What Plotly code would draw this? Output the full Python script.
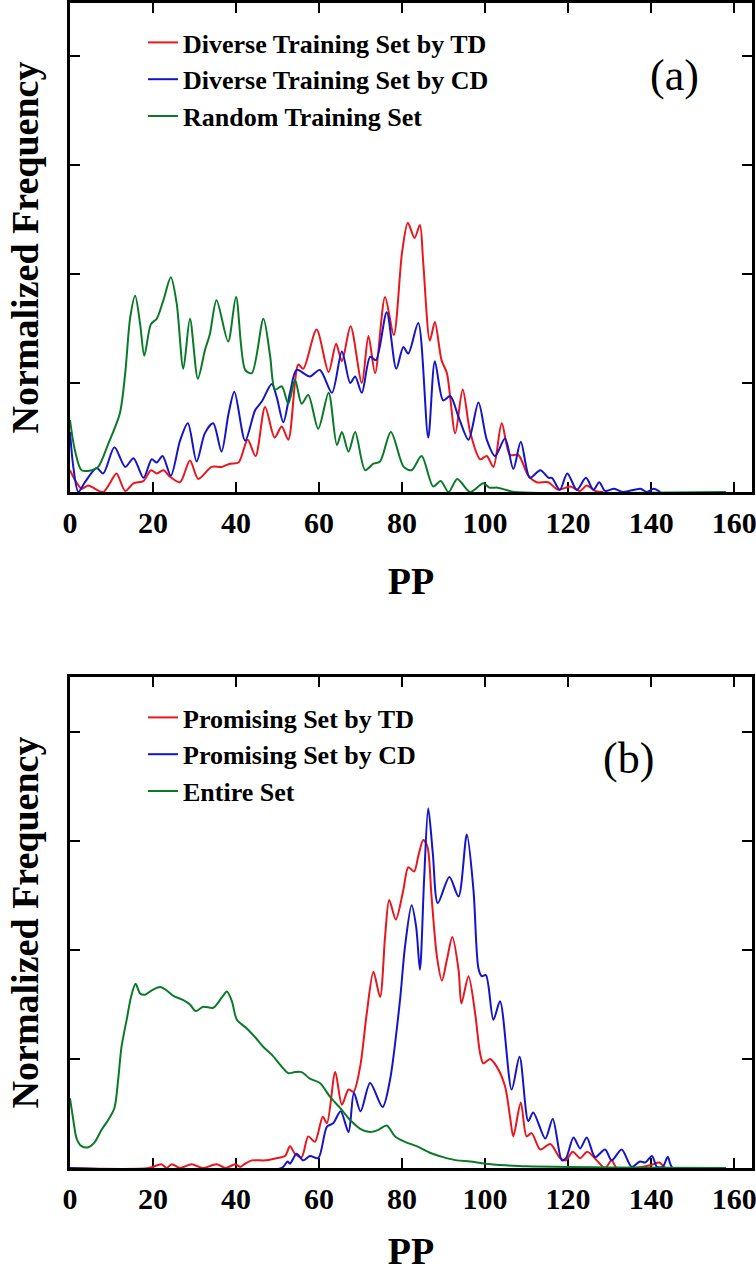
import plotly.graph_objects as go

# ---------------- data ----------------
# Panel (a)
pp_a_td = [0, 1.2, 2.8, 4.4, 6, 8, 9.6, 11.2, 13.3, 15.3, 17.7, 19.5, 20.9, 22.5, 24.1, 26.5, 28.9, 30.9,
           34.1, 36.5, 38.6, 40.6, 42.8, 44.7, 47, 49.3, 51, 52.6, 55, 56.2, 59.4, 62.3, 64.1, 65.5, 67.6,
           70.3, 71.9, 73.5, 75.9, 78, 80, 81.4, 83, 84.3, 85.1, 86.7, 87.9, 89.5, 90.8, 92.8, 94.6, 96.4,
           98.8, 100.4, 102, 104, 106, 108, 110.4, 112.4, 115.2, 117.6, 120.5, 122.9, 124.5, 126.5, 128.5]
freq_a_td = [0.2, 0.11, 0.03, 0.06, 0.03, 0, 0.08, 0.17, 0.01, 0.08, 0.1, 0.2, 0.17, 0.2, 0.14, 0.09, 0.29, 0.12,
             0.23, 0.23, 0.26, 0.27, 0.48, 0.33, 0.78, 0.5, 0.6, 0.48, 1.17, 1.13, 1.49, 1.1, 1.36, 1.2, 1.52,
             1.0, 1.43, 1.09, 1.79, 1.44, 2.2, 2.47, 2.33, 2.45, 2.1, 1.39, 1.56, 1.21, 1.09, 0.54, 0.94, 0.55,
             0.3, 0.33, 0.23, 0.63, 0.34, 0.34, 0.15, 0.09, 0.09, 0.02, 0.05, 0.01, 0.06, 0.01, 0]

pp_a_cd = [0, 0.8, 2, 3.6, 6.4, 8, 10.7, 13.3, 15.3, 17.7, 19.7, 20.9, 22.3, 24.3, 26.5, 28.4, 30.5, 32.5,
           34.5, 36.5, 38.2, 39.6, 42.2, 44.6, 46.2, 48.6, 49.8, 51.4, 53, 54.6, 57.8, 60.2, 63.1, 65.5,
           67.5, 68.7, 70.3, 72.3, 73.7, 76.3, 78.6, 80.3, 81.5, 83.9, 86.3, 87.9, 89.9, 91.6, 93.6, 96,
           98.4, 100.4, 102.4, 104.8, 106.8, 108.6, 110.8, 113.3, 115.3, 116.1, 118, 119.8, 122.1, 124.3,
           126.1, 127.5, 128.9, 131.1, 133.3, 137.4, 139, 140.6, 142.2]
freq_a_cd = [0.55, 0.23, 0, 0.09, 0.22, 0.17, 0.41, 0.23, 0.31, 0.13, 0.3, 0.27, 0.33, 0.15, 0.47, 0.63, 0.28, 0.54,
             0.63, 0.37, 0.72, 0.92, 0.47, 0.75, 0.83, 0.99, 0.87, 0.64, 0.91, 1.12, 1.06, 1.12, 0.91, 1.29,
             1.0, 1.06, 0.91, 1.24, 1.21, 1.65, 1.13, 1.33, 1.27, 1.55, 0.5, 1.2, 0.84, 0.88, 0.69, 0.48,
             0.82, 0.48, 0.33, 0.49, 0.21, 0.46, 0.13, 0.2, 0.13, 0.13, 0.02, 0.17, 0.02, 0.13,
             0.02, 0.09, 0.01, 0.03, 0, 0.03, 0, 0.03, 0]

pp_a_rand = [0, 1.2, 2.8, 5.2, 6.8, 9.2, 12, 13.3, 14.5, 15.7, 16.9, 17.9, 19.5, 20.9, 22.5, 24.3, 25.7, 27.3,
             28.9, 30.8, 32.5, 33.7, 35.3, 38.1, 40, 42.2, 43.8, 46.6, 48.2, 49.4, 51, 52.6, 54.2, 55.8, 57.4,
             59.8, 62.3, 64.3, 65.5, 67.1, 68.7, 71.1, 73.1, 74.7, 77.3, 80.4, 82.3, 84.7, 87.5, 89.3, 91.2,
             93.3, 96.4, 99.6, 101, 103, 105, 107, 158]
freq_a_rand = [0.66, 0.38, 0.2, 0.2, 0.23, 0.44, 0.72, 1.09, 1.6, 1.8, 1.54, 1.25, 1.54, 1.59, 1.76, 1.97, 1.73, 1.13,
               1.59, 1.04, 1.3, 1.45, 1.76, 1.38, 1.79, 1.12, 1.09, 1.59, 1.25, 0.94, 0.97, 0.81, 1.03, 0.81, 0.89,
               0.58, 0.91, 0.43, 0.55, 0.37, 0.55, 0.2, 0.26, 0.28, 0.55, 0.23, 0.2, 0.33, 0.05, 0.1, 0,
               0.12, 0, 0.08, 0.04, 0.04, 0.02, 0, 0]

# Panel (b)
pp_b_td = [0, 19, 22, 23.3, 24.5, 26.5, 29.3, 32, 35.3, 37.5, 39.8, 41, 42.2, 43.8, 47, 49.8, 51.8, 53, 54.2,
           55.8, 57.4, 59, 60.9, 61.9, 63.9, 65.5, 67.1, 68.3, 69.9, 71.5, 73.1, 74.7, 75.9, 76.9, 78.5, 80.3,
           81.5, 82.9, 83.9, 85.1, 86.1, 87.1, 88.4, 89.6, 90.8, 92.1, 93.6, 94.3, 96, 97.6, 98.8, 99.6, 101.2,
           102.8, 104.8, 106, 106.8, 108.6, 110, 111.2, 113.3, 115.7, 118.1, 119.5, 121.1, 122.9, 124.6, 126.9,
           128.9, 130.5, 131.7, 136, 140.2, 142, 143.5, 145]
freq_b_td = [0, 0, 0.035, 0, 0.035, 0, 0.035, 0, 0.035, 0, 0.035, 0.01, 0.04, 0.07, 0.07, 0.09, 0.11, 0.2, 0.13,
             0.1, 0.29, 0.24, 0.47, 0.41, 0.88, 0.58, 0.72, 0.7, 0.93, 1.42, 1.8, 1.57, 2.12, 2.46, 2.28, 2.55,
             2.76, 2.72, 2.86, 3.01, 2.95, 2.49, 1.94, 1.72, 1.91, 2.12, 1.82, 1.51, 1.76, 1.42, 1.05, 0.96, 1.0,
             0.93, 0.75, 0.47, 0.29, 0.6, 0.29, 0.32, 0.17, 0.22, 0.09, 0.07, 0.15, 0.09, 0.15, 0.07,
             0, 0.07, 0, 0, 0.03, 0.05, 0, 0]

pp_b_cd = [0, 51, 52.4, 53, 54.6, 56.2, 57.8, 59.8, 61.9, 63.4, 65.2, 67.1, 68.4, 70, 72.3, 75.3, 77.1, 79.5,
           80.7, 82.3, 83.4, 84.3, 85.3, 86.3, 87.4, 88.6, 91.4, 93.6, 95.6, 97.2, 98.4, 99.2, 100.2, 102,
           103.6, 106.4, 108.3, 110.4, 111.6, 114.5, 116.3, 118.5, 119.5, 121.3, 122.9, 124.5, 126.5, 128.9,
           130.5, 132.9, 135.3, 137.3, 138.6, 140.2, 141.4, 142.8, 144, 145.2, 158]
freq_b_cd = [0, 0, 0.06, 0.04, 0.13, 0.07, 0.11, 0.09, 0.38, 0.41, 0.52, 0.33, 0.69, 0.52, 0.78, 0.56, 0.81, 1.54,
             2.03, 2.41, 2.21, 1.82, 2.64, 3.3, 2.89, 2.43, 2.67, 2.49, 3.06, 2.55, 1.83, 1.76, 1.77, 1.36,
             1.53, 0.72, 1.02, 0.43, 0.51, 0.27, 0.45, 0.07, 0.09, 0.28, 0.18, 0.28, 0.1, 0.17,
             0.07, 0.17, 0.01, 0.06, 0.05, 0.11, 0.01, 0.01, 0.1, 0, 0]

pp_b_all = [0, 0.8, 1.6, 2.8, 4.4, 6, 7.6, 9.2, 10.7, 11.6, 12.4, 13.7, 14.7, 15.8, 16.9, 18.1, 19.7, 21.7, 22.9,
            24.9, 27.3, 28.9, 30.3, 32.1, 34.5, 36.5, 37.8, 39, 40.2, 42.6, 44.6, 46.6, 48.6, 51, 52.6, 54.2,
            55.8, 57.8, 60.2, 62.7, 65.1, 67.5, 69.9, 72.3, 74.3, 76.3, 78.3, 80.7, 83.5, 86.7, 89.9, 93.2,
            96.4, 100, 105, 110, 120, 130, 158]
freq_b_all = [0.64, 0.44, 0.27, 0.2, 0.19, 0.24, 0.35, 0.44, 0.55, 0.81, 1.11, 1.37, 1.57, 1.69, 1.6, 1.59, 1.63, 1.66, 1.64,
              1.58, 1.54, 1.5, 1.44, 1.48, 1.47, 1.56, 1.62, 1.53, 1.36, 1.28, 1.2, 1.11, 1.04, 0.93, 0.87, 0.88,
              0.88, 0.82, 0.78, 0.65, 0.55, 0.44, 0.36, 0.33, 0.35, 0.39, 0.29, 0.24, 0.2, 0.14, 0.1, 0.07,
              0.06, 0.04, 0.025, 0.015, 0.01, 0.005, 0]

x_ticks = [0, 20, 40, 60, 80, 100, 120, 140, 160]
y_ticks = [0, 1, 2, 3, 4]

names_a = ["Diverse Training Set by TD", "Diverse Training Set by CD", "Random Training Set"]
names_b = ["Promising Set by TD", "Promising Set by CD", "Entire Set"]

# ---------------- style ----------------
FONT = "Liberation Serif"
RED = "#e8171d"
BLUE = "#1414c8"
GREEN = "#0a7a28"
colors = [RED, BLUE, GREEN]

fig = go.Figure()
series_a = [(pp_a_td, freq_a_td), (pp_a_cd, freq_a_cd), (pp_a_rand, freq_a_rand)]
series_b = [(pp_b_td, freq_b_td), (pp_b_cd, freq_b_cd), (pp_b_all, freq_b_all)]

for (xs, ys), name, c in zip(series_a, names_a, colors):
    fig.add_trace(go.Scatter(x=xs, y=ys, name=name, mode="lines",
                             line=dict(color=c, width=2, shape="spline", smoothing=0.8),
                             xaxis="x", yaxis="y", legend="legend"))
for (xs, ys), name, c in zip(series_b, names_b, colors):
    fig.add_trace(go.Scatter(x=xs, y=ys, name=name, mode="lines",
                             line=dict(color=c, width=2, shape="spline", smoothing=0.8),
                             xaxis="x2", yaxis="y2", legend="legend2"))

W, H = 756, 1272
x_dom = [70 / W, 752 / W]
ya_dom = [1 - 492 / H, 1 - 3 / H]
yb_dom = [1 - 1168 / H, 1 - 677 / H]

tickfont = dict(family=FONT, size=30, color="black", weight="bold")
titlefont = dict(family=FONT, size=38, color="black", weight="bold")

def xaxis(anchor):
    return dict(domain=x_dom, anchor=anchor, range=[0, 164.3], tickvals=x_ticks,
                showline=True, linecolor="black", linewidth=3, mirror="ticks",
                ticks="inside", ticklen=10, tickwidth=2, tickcolor="black",
                showgrid=False, zeroline=False, tickfont=tickfont, ticklabelstandoff=2,
                ticklabeloverflow="allow",
                automargin=False, layer="below traces",
                title=dict(text="PP", font=titlefont, standoff=30))

def yaxis(anchor, dom, top):
    return dict(domain=dom, anchor=anchor, range=[0, top], tickvals=y_ticks,
                showticklabels=False, showline=True, linecolor="black", linewidth=3,
                mirror="ticks", ticks="inside", ticklen=10, tickwidth=2, tickcolor="black",
                showgrid=False, zeroline=False, automargin=False, layer="below traces",
                title=dict(text="Normalized Frequency", font=titlefont, standoff=17))

legfont = dict(family=FONT, size=26, color="black", weight="bold")

fig.update_layout(
    template="none",
    width=W, height=H,
    margin=dict(l=0, r=0, t=0, b=0),
    paper_bgcolor="white", plot_bgcolor="white",
    font=dict(family=FONT, color="black"),
    xaxis=xaxis("y"), yaxis=yaxis("x", ya_dom, 4.486),
    xaxis2=xaxis("y2"), yaxis2=yaxis("x2", yb_dom, 4.505),
    showlegend=True,
    legend=dict(x=143 / W, y=1 - 19 / H, xanchor="left", yanchor="top", font=legfont,
                bgcolor="rgba(0,0,0,0)", borderwidth=0, tracegroupgap=0),
    legend2=dict(x=143 / W, y=1 - 694 / H, xanchor="left", yanchor="top", font=legfont,
                 bgcolor="rgba(0,0,0,0)", borderwidth=0, tracegroupgap=0),
    annotations=[
        dict(text="(a)", x=674 / W, y=1 - 76 / H, xref="paper", yref="paper", showarrow=False,
             xanchor="center", yanchor="middle", font=dict(family=FONT, size=44, color="black")),
        dict(text="(b)", x=628 / W, y=1 - 758 / H, xref="paper", yref="paper", showarrow=False,
             xanchor="center", yanchor="middle", font=dict(family=FONT, size=44, color="black")),
    ],
)

# remove the browser's default 8px page margin so the figure sits at the window origin
fig.write_html("out.html", config={"displayModeBar": False},
               post_script="document.body.style.margin='0';document.body.style.overflow='hidden';")
